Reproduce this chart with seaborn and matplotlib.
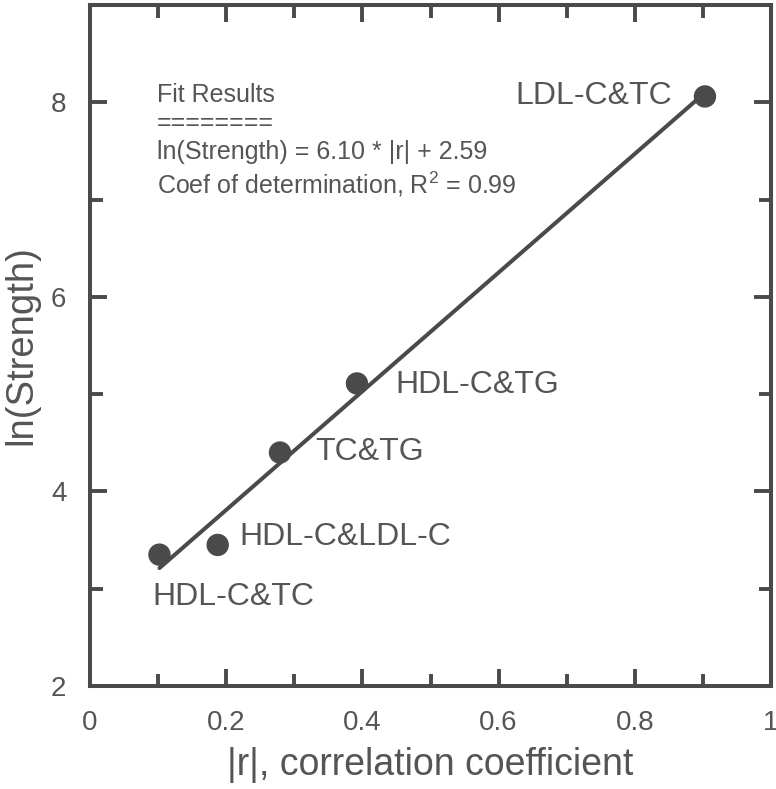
import numpy as np
import pandas as pd
import matplotlib
matplotlib.use("Agg")
import matplotlib.pyplot as plt
import seaborn as sns

# data
pairs = ["HDL-C&TC", "HDL-C&LDL-C", "TC&TG", "HDL-C&TG", "LDL-C&TC"]
abs_r = [0.102, 0.1875, 0.279, 0.392, 0.903]
ln_strength = [3.35, 3.45, 4.40, 5.11, 8.06]

# fit reported on the chart
slope = 6.10
intercept = 2.59
r_squared = 0.99

# label offsets (pixels) relative to each point, and alignment
label_dx = [-7, 22, 35, 38, -33]
label_dy = [-42, 8, 1, -2, 0]
label_ha = ["left", "left", "left", "left", "right"]

df = pd.DataFrame({"pair": pairs, "abs_r": abs_r, "ln_strength": ln_strength})
fit_df = pd.DataFrame({"abs_r": [df["abs_r"].min(), df["abs_r"].max()]})
fit_df["ln_strength"] = slope * fit_df["abs_r"] + intercept

sns.set_style("ticks")
plt.rcParams["font.family"] = ["Liberation Sans", "DejaVu Sans"]
plt.rcParams["mathtext.fontset"] = "custom"
plt.rcParams["mathtext.rm"] = "Liberation Sans"
plt.rcParams["mathtext.it"] = "Liberation Sans"

dark = "#4a4a4a"
text_col = "#555555"

fig = plt.figure(figsize=(7.76, 7.89), dpi=100)
ax = fig.add_axes([90 / 776, 103 / 789, 681 / 776, 681 / 789])

sns.lineplot(data=fit_df, x="abs_r", y="ln_strength", ax=ax,
             color=dark, linewidth=2.9, zorder=2)
sns.scatterplot(data=df, x="abs_r", y="ln_strength", ax=ax,
                color=dark, s=260, edgecolor="none", zorder=3)

for i, row in df.iterrows():
    ax.annotate(row["pair"], (row["abs_r"], row["ln_strength"]),
                xytext=(label_dx[i], label_dy[i]), textcoords="offset pixels",
                ha=label_ha[i], va="center", fontsize=23, color=text_col)

# fit summary block
fit_text = ("Fit Results\n========\n"
            f"ln(Strength) = {slope:.2f} * |r| + {intercept:.2f}\n"
            f"Coef of determination, R$^2$ = {r_squared:.2f}")
ax.text(0.0985, 0.886, fit_text, transform=ax.transAxes, ha="left",
        va="top", fontsize=18, color=text_col, linespacing=1.24)

ax.set_xlim(0, 1)
ax.set_ylim(2, 9)
ax.set_xticks(np.arange(0, 1.01, 0.2))
ax.set_xticklabels(["0", "0.2", "0.4", "0.6", "0.8", "1"])
ax.set_xticks(np.arange(0.1, 1.0, 0.2), minor=True)
ax.set_yticks([2, 4, 6, 8])
ax.set_yticks([3, 5, 7, 9], minor=True)

ax.tick_params(which="both", direction="in", top=True, right=True,
               color=dark, width=2.8, labelsize=20, labelcolor=text_col)
ax.tick_params(which="major", length=12, pad=17)
ax.tick_params(which="minor", length=9)
for sp in ax.spines.values():
    sp.set_visible(True)
    sp.set_linewidth(2.9)
    sp.set_color(dark)

ax.set_xlabel("|r|, correlation coefficient", fontsize=27, color=text_col,
              labelpad=8)
ax.set_ylabel("ln(Strength)", fontsize=27.5, color=text_col, labelpad=8)

fig.savefig("out.png", dpi=100)
